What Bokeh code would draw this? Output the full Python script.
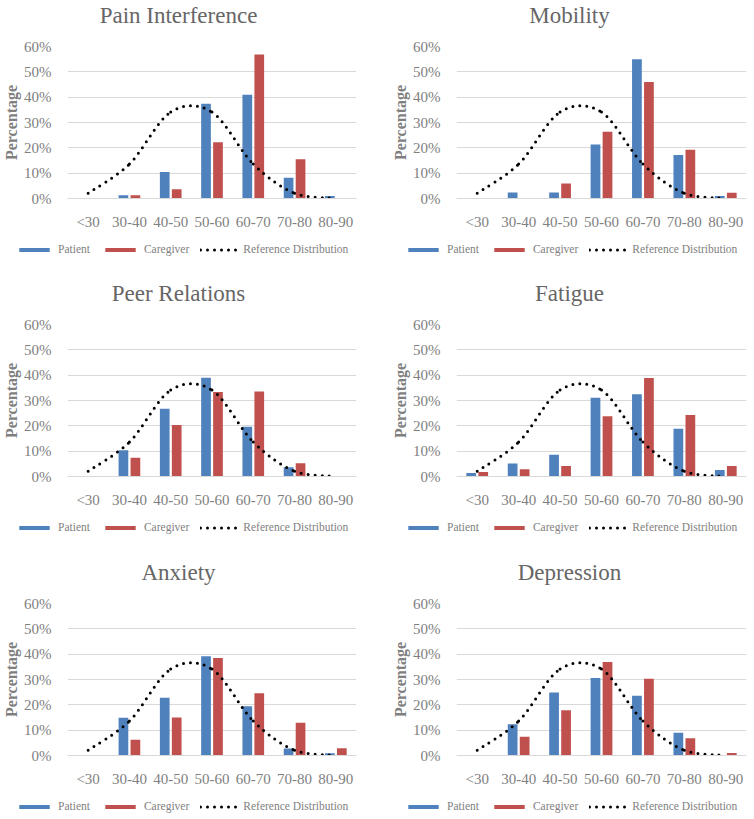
from bokeh.plotting import figure
from bokeh.models import (Range1d, FixedTicker, PrintfTickFormatter, Label, Legend,
                          LegendItem, ColumnDataSource)
from bokeh.layouts import column, row
from bokeh.transform import dodge
from bokeh.embed import file_html
from bokeh.resources import INLINE

# ---------------- data ----------------
categories = ["<30", "30-40", "40-50", "50-60", "60-70", "70-80", "80-90"]
reference = [2.1, 13.6, 34.1, 34.1, 13.6, 2.1, 0.1]

titles = ["Pain Interference", "Mobility", "Peer Relations", "Fatigue", "Anxiety", "Depression"]
series_names = ["Patient", "Caregiver", "Reference Distribution"]

pain_patient = [0, 1.3, 10.5, 37.4, 41.0, 8.2, 1.0]
pain_caregiver = [0, 1.3, 3.7, 22.2, 56.8, 15.5, 0]
mobility_patient = [0, 2.4, 2.4, 21.3, 55.0, 17.2, 1.0]
mobility_caregiver = [0, 0, 5.9, 26.3, 46.0, 19.2, 2.3]
peer_patient = [0, 10.4, 26.7, 39.0, 19.6, 3.7, 0]
peer_caregiver = [0, 7.4, 20.3, 33.4, 33.6, 5.2, 0.2]
fatigue_patient = [1.4, 5.1, 8.6, 31.1, 32.5, 18.8, 2.6]
fatigue_caregiver = [1.8, 2.9, 4.1, 23.8, 38.9, 24.3, 4.1]
anxiety_patient = [0, 14.9, 22.8, 39.2, 19.4, 2.8, 0.9]
anxiety_caregiver = [0, 6.2, 15.0, 38.5, 24.6, 12.9, 2.9]
depression_patient = [0, 12.3, 24.9, 30.6, 23.6, 9.0, 0]
depression_caregiver = [0, 7.4, 17.9, 36.9, 30.3, 6.8, 1.0]

y_ticks = [0, 10, 20, 30, 40, 50, 60]

# ---------------- style ----------------
BLUE = "#4F81BD"
RED = "#C0504D"
GRID = "#d9d9d9"
FONT = "Liberation Serif"
FRAME_H = 156
HEADER_H = 30
MAIN_TOP = 16
MAIN_BOTTOM = 30
NAN = float("nan")


def blank_fig(w, h):
    f = figure(width=w, height=h, output_backend="svg", toolbar_location=None, tools="",
               x_axis_type=None, y_axis_type=None, x_range=Range1d(0, w), y_range=Range1d(0, h),
               min_border=0, min_border_left=0, min_border_right=0, min_border_top=0,
               min_border_bottom=0, frame_align=False)
    f.outline_line_color = None
    f.xgrid.visible = False
    f.ygrid.visible = False
    return f


def header(title, w, cx):
    f = blank_fig(w, HEADER_H)
    f.add_layout(Label(x=cx, y=HEADER_H / 2, text=title, text_align="center",
                       text_baseline="middle", text_font=FONT, text_font_size="23px",
                       text_color="#666666"))
    return f


def footer(w, h, lx):
    f = blank_fig(w, h)
    # legend proxies (no visible marks)
    r1 = f.vbar(x=[NAN], top=[NAN], width=1, fill_color=BLUE, line_color=None)
    r2 = f.vbar(x=[NAN], top=[NAN], width=1, fill_color=RED, line_color=None)
    r3 = f.line(x=[NAN], y=[NAN], line_color="black", line_width=3, line_dash="0 7",
                line_cap="round")
    legend = Legend(items=[LegendItem(label=series_names[0], renderers=[r1]),
                           LegendItem(label=series_names[1], renderers=[r2]),
                           LegendItem(label=series_names[2], renderers=[r3])],
                    orientation="horizontal", location=(lx, h - 23),
                    glyph_width=38, glyph_height=5, label_standoff=5, spacing=11,
                    padding=0, margin=0, border_line_color=None, background_fill_alpha=0,
                    label_text_font=FONT, label_text_font_size="11.5px",
                    label_text_color="#7f7f7f", label_height=12)
    f.add_layout(legend, "center")
    return f


def main_plot(patient, caregiver, fig_w, b_left, b_right):
    p = figure(width=fig_w, height=MAIN_TOP + FRAME_H + MAIN_BOTTOM, output_backend="svg",
               toolbar_location=None, tools="", frame_align=False,
               x_range=Range1d(-0.5, len(categories) - 0.5), y_range=Range1d(0, 60),
               min_border_left=b_left, min_border_right=b_right, min_border_top=MAIN_TOP,
               min_border_bottom=MAIN_BOTTOM)
    p.outline_line_color = None
    xs = list(range(len(categories)))
    src = ColumnDataSource(dict(x=xs, patient=patient, caregiver=caregiver))
    p.vbar(x=dodge("x", -0.145, range=p.x_range), top="patient", width=0.235,
           source=src, fill_color=BLUE, line_color=None)
    p.vbar(x=dodge("x", 0.145, range=p.x_range), top="caregiver", width=0.235,
           source=src, fill_color=RED, line_color=None)

    # smoothed reference curve (Excel-style cardinal bezier through the reference points)
    n = len(reference)
    bz = dict(x0=[], y0=[], x1=[], y1=[], cx0=[], cy0=[], cx1=[], cy1=[])
    for i in range(n - 1):
        pm = max(i - 1, 0)
        pp = min(i + 2, n - 1)
        bz["x0"].append(xs[i]); bz["y0"].append(reference[i])
        bz["x1"].append(xs[i + 1]); bz["y1"].append(reference[i + 1])
        bz["cx0"].append(xs[i] + (xs[i + 1] - xs[pm]) / 6)
        bz["cy0"].append(reference[i] + (reference[i + 1] - reference[pm]) / 6)
        bz["cx1"].append(xs[i + 1] - (xs[pp] - xs[i]) / 6)
        bz["cy1"].append(reference[i + 1] - (reference[pp] - reference[i]) / 6)
    p.bezier(x0="x0", y0="y0", x1="x1", y1="y1", cx0="cx0", cy0="cy0", cx1="cx1", cy1="cy1",
             source=ColumnDataSource(bz), line_color="black", line_width=3,
             line_dash="0 7", line_cap="round")

    # axes
    p.xaxis.ticker = FixedTicker(ticks=xs)
    p.xaxis.major_label_overrides = {i: c for i, c in enumerate(categories)}
    p.xaxis.major_tick_line_color = None
    p.xaxis.minor_tick_line_color = None
    p.xaxis.axis_line_color = GRID
    p.xaxis.major_label_text_font = FONT
    p.xaxis.major_label_text_font_size = "15px"
    p.xaxis.major_label_text_color = "#808080"
    p.xaxis.major_label_standoff = 9

    p.yaxis.ticker = FixedTicker(ticks=y_ticks)
    p.yaxis.formatter = PrintfTickFormatter(format="%d%%")
    p.yaxis.major_tick_line_color = None
    p.yaxis.minor_tick_line_color = None
    p.yaxis.axis_line_color = None
    p.yaxis.major_label_text_font = FONT
    p.yaxis.major_label_text_font_size = "15px"
    p.yaxis.major_label_text_color = "#808080"
    p.yaxis.major_label_standoff = 10
    p.yaxis.axis_label = "Percentage"
    p.yaxis.axis_label_text_font = FONT
    p.yaxis.axis_label_text_font_style = "bold"
    p.yaxis.axis_label_text_font_size = "16px"
    p.yaxis.axis_label_text_color = "#7f7f7f"
    p.yaxis.axis_label_standoff = 1

    p.xgrid.grid_line_color = None
    p.ygrid.ticker = FixedTicker(ticks=y_ticks)
    p.ygrid.grid_line_color = GRID
    return p


series = [
    (pain_patient, pain_caregiver),
    (mobility_patient, mobility_caregiver),
    (peer_patient, peer_caregiver),
    (fatigue_patient, fatigue_caregiver),
    (anxiety_patient, anxiety_caregiver),
    (depression_patient, depression_caregiver),
]
row_heights = [278, 279, 262]
LEFT_W, RIGHT_W = 386, 368

rows = []
for r in range(3):
    cols = []
    footer_h = row_heights[r] - HEADER_H - (MAIN_TOP + FRAME_H + MAIN_BOTTOM)
    for c in range(2):
        k = 2 * r + c
        pa, ca = series[k]
        if c == 0:
            hd = header(titles[k], LEFT_W, 178)
            mp = main_plot(pa, ca, LEFT_W, 67, 30)
            ft = footer(LEFT_W, footer_h, 15)
        else:
            hd = header(titles[k], RIGHT_W, 183)
            mp = main_plot(pa, ca, RIGHT_W, 70, 8)
            ft = footer(RIGHT_W, footer_h, 18)
        cols.append(column(hd, mp, ft))
    rows.append(row(*cols))

layout = column(*rows)

open("out.html", "w").write(file_html(layout, INLINE))
